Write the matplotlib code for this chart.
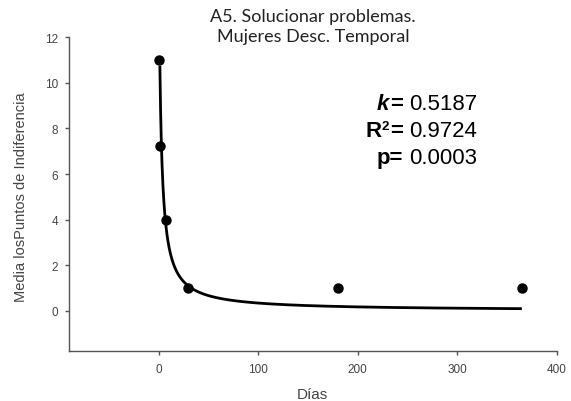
import numpy as np
import matplotlib
matplotlib.use("Agg")
import matplotlib.pyplot as plt

# Data
dias = [0.5, 1, 7, 30, 180, 365]
media = [11.0, 7.25, 4.0, 1.0, 1.0, 1.0]

# Hyperbolic fit parameters  V = A / (1 + k*D)
fit_A = 18.0
fit_k = 0.5187
fit_start, fit_end = 1.3, 365

title = "A5. Solucionar problemas.\nMujeres Desc. Temporal"
xlabel = "Días"
ylabel = "Media losPuntos de Indiferencia"
xticks = [0, 100, 200, 300, 400]
yticks = [0, 2, 4, 6, 8, 10, 12]
stats = [("k", "0.5187"), ("R2", "0.9724"), ("p", "0.0003")]

W, H = 571, 402
fig = plt.figure(figsize=(W / 100, H / 100), dpi=100)
ax = fig.add_axes([69 / W, 1 - 351.7 / H, (556.7 - 69) / W, (351.7 - 38.3) / H])

xs = np.linspace(fit_start, fit_end, 2000)
ax.plot(xs, fit_A / (1 + fit_k * xs), color="black", lw=2.0, solid_capstyle="butt", zorder=2)
ax.plot(dias, media, "o", color="black", ms=6.5, zorder=3)

ax.set_xlim(-90, 400)
ax.set_ylim(-1.75, 12)
ax.set_xticks(xticks)
ax.set_yticks(yticks)
for s in ["top", "right"]:
    ax.spines[s].set_visible(False)
for s in ["left", "bottom"]:
    ax.spines[s].set_color("#555555")
    ax.spines[s].set_linewidth(1.0)
ax.tick_params(direction="out", length=3, width=1, color="#555555",
               labelsize=8.5, labelcolor="#444444",
               labelfontfamily="Liberation Sans")
ax.tick_params(axis="x", pad=6)
ax.tick_params(axis="y", pad=5)

fig.text(312 / W, 1 - 395 / H, xlabel, ha="center", va="center", fontsize=11,
         color="#444444", family="Liberation Sans")
fig.text(21 / W, 1 - 197 / H, ylabel, ha="center", va="center", rotation=90,
         fontsize=10.5, color="#444444", family="Liberation Sans")

fig.text(313 / W, 1 - 27 / H, title, ha="center", va="center", fontsize=13,
         family="Lato", color="#222222", linespacing=1.3)

# Stats annotation
fs = 16
base_y = [110, 137, 164]
xr = 403
xv = 409
def fy(y):
    return 1 - y / H
fig.text(xr / W, fy(base_y[0]), "=", ha="right", va="baseline", fontsize=fs,
         weight="bold", family="Liberation Sans")
fig.text((xr - 14) / W, fy(base_y[0]), "k", ha="right", va="baseline", fontsize=fs,
         weight="bold", style="italic", family="Liberation Sans")
fig.text(xr / W, fy(base_y[1]), "=", ha="right", va="baseline", fontsize=fs,
         weight="bold", family="Liberation Sans")
fig.text((xr - 14) / W, fy(base_y[1]) + 7 / H, "2", ha="right", va="baseline", fontsize=fs * 0.6,
         weight="bold", family="Liberation Sans")
fig.text((xr - 21) / W, fy(base_y[1]), "R", ha="right", va="baseline", fontsize=fs,
         weight="bold", family="Liberation Sans")
fig.text(xr / W, fy(base_y[2]), "p=", ha="right", va="baseline", fontsize=fs,
         weight="bold", family="Liberation Sans")
for (lab, val), y in zip(stats, base_y):
    fig.text(xv / W, fy(y), val, ha="left", va="baseline", fontsize=fs,
             family="Liberation Sans")

fig.savefig("out.png", dpi=100)
